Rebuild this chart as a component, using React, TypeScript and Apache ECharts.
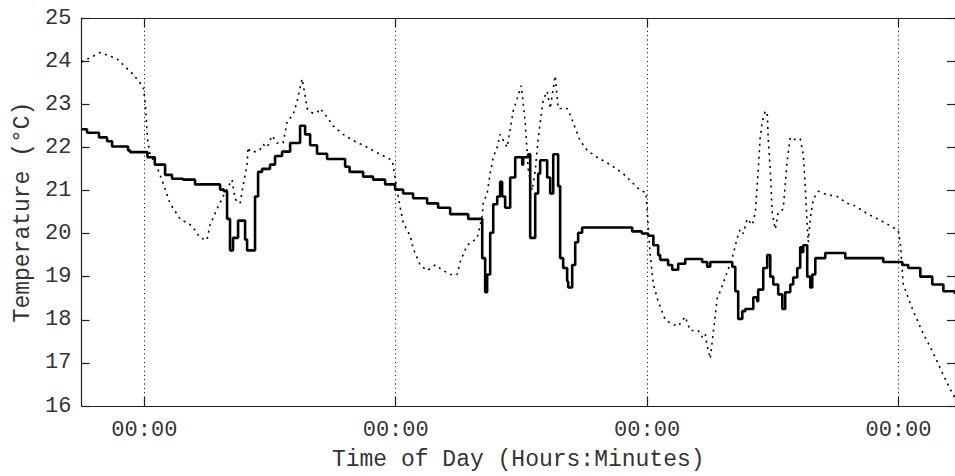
import React, { useEffect, useRef } from "react";
import * as echarts from "echarts";

// Time in hours relative to the first midnight shown; temperatures in °C
const solidTimes = [
  -6, -5.47, -4.33, -3.56, -3.08, -1.56, -1.37, 0.3, 1.0, 1.98, 2.65, 3.7, 4.84, 7.23, 7.6, 7.9, 8.18, 8.47,
  8.95, 9.62, 9.81, 10.57, 10.86, 11.24, 12.0, 12.48, 13.15, 13.92, 14.87, 15.35, 15.83, 16.49, 17.45, 19.17,
  19.6, 20.89, 21.84, 22.99, 23.94, 24.71, 25.66, 27.0, 28.05, 29.2, 30.92, 32.26, 32.54, 32.73, 33.02, 33.31,
  33.69, 33.97, 34.16, 34.45, 34.93, 35.41, 36.08, 36.17, 36.65, 36.84, 37.32, 37.6, 37.79, 38.46, 38.75, 39.04,
  39.51, 39.7, 39.99, 40.37, 40.47, 40.85, 41.14, 41.42, 41.8, 46.58, 47.5, 48.1, 48.6, 49.06, 49.25, 50.01,
  50.4, 50.97, 51.64, 53.26, 53.74, 54.03, 56.13, 56.42, 56.7, 57.09, 57.37, 58.14, 58.52, 58.61, 59.09, 59.47,
  59.76, 60.05, 60.52, 60.91, 61.19, 61.67, 61.95, 62.34, 62.62, 62.81, 62.91, 63.29, 63.58, 63.77, 64.06,
  65.01, 66.92, 70.55, 72.37, 72.94, 74.09, 75.23, 76.29, 77.4,
];
const solidTemps = [
  22.42, 22.34, 22.23, 22.14, 22.02, 21.93, 21.89, 21.77, 21.6, 21.36, 21.27, 21.25, 21.14, 21.02, 20.98, 20.34,
  19.61, 19.9, 20.3, 19.86, 19.61, 20.86, 21.43, 21.5, 21.6, 21.8, 21.9, 22.1, 22.5, 22.3, 22.05, 21.85, 21.73,
  21.55, 21.43, 21.32, 21.25, 21.14, 21.02, 20.93, 20.82, 20.7, 20.6, 20.45, 20.34, 19.43, 18.64, 19.05, 20.02,
  20.68, 20.86, 21.2, 20.86, 20.6, 21.3, 21.77, 21.6, 21.77, 21.84, 19.9, 20.93, 21.39, 21.7, 21.3, 20.93, 21.84,
  21.1, 19.43, 19.2, 18.89, 18.75, 19.27, 19.8, 20.02, 20.14, 20.05, 20.0, 19.95, 19.73, 19.5, 19.39, 19.27,
  19.16, 19.3, 19.41, 19.34, 19.23, 19.34, 19.23, 18.66, 18.02, 18.2, 18.25, 18.52, 18.43, 18.7, 19.2, 19.5,
  19.0, 18.82, 18.59, 18.25, 18.64, 18.82, 18.98, 19.2, 19.68, 19.57, 19.73, 19.0, 18.75, 19.05, 19.43, 19.55,
  19.43, 19.34, 19.27, 19.2, 19.0, 18.82, 18.66, 18.6,
];

const dottedTimes = [
  -6, -5.0, -4.2, -2.6, -1.1, -0.1, 0.1, 0.3, 0.54, 1.2, 1.8, 2.45, 3.41, 4.55, 5.32, 5.98, 6.27, 6.94, 7.52,
  8.37, 8.66, 9.14, 9.42, 9.81, 9.9, 10.1, 10.76, 11.05, 11.34, 11.72, 12.2, 12.67, 13.25, 13.63, 14.2, 14.58,
  15.06, 15.35, 15.54, 16.02, 16.49, 16.78, 17.45, 18.02, 18.98, 19.93, 21.27, 22.51, 23.66, 23.94, 24.23,
  24.71, 25.38, 25.66, 26.33, 27.0, 27.77, 28.43, 29.2, 29.86, 30.15, 30.82, 31.77, 32.26, 32.35, 32.73, 33.02,
  33.31, 33.69, 33.97, 34.64, 35.22, 35.98, 36.36, 36.65, 37.03, 37.32, 37.6, 38.08, 38.46, 38.75, 39.23,
  39.51, 40.37, 40.66, 41.14, 41.6, 42.28, 43.23, 44.48, 45.72, 46.68, 47.35, 47.9, 48.1, 48.3, 48.6, 49.06,
  49.73, 50.4, 50.97, 51.64, 52.12, 52.88, 53.26, 53.55, 53.74, 54.03, 54.31, 54.7, 54.98, 55.46, 56.13, 56.6,
  56.89, 57.18, 57.56, 58.04, 58.33, 58.61, 58.8, 59.0, 59.28, 59.47, 59.57, 59.76, 59.95, 60.24, 60.52, 61.0,
  61.38, 61.67, 62.15, 62.62, 62.91, 63.1, 63.29, 63.39, 63.58, 63.87, 64.35, 65.2, 66.15, 67.1, 67.58, 69.11,
  70.73, 71.98, 72.17, 72.46, 73.41, 74.37, 75.32, 76.19, 76.76, 77.24, 77.4,
];
const dottedTemps = [
  23.98, 24.1, 24.2, 24.05, 23.7, 23.4, 23.0, 22.2, 21.84, 21.55, 21.16, 20.7, 20.34, 20.18, 19.9, 19.85, 20.2,
  20.57, 20.86, 21.25, 20.8, 20.7, 21.1, 21.6, 22.0, 21.9, 21.9, 21.95, 22.07, 22.0, 22.27, 22.1, 22.1, 22.6,
  22.75, 23.06, 23.59, 23.2, 22.9, 22.8, 22.8, 22.9, 22.7, 22.5, 22.3, 22.16, 22.0, 21.84, 21.7, 21.3, 20.86,
  20.25, 19.95, 19.66, 19.27, 19.14, 19.27, 19.16, 19.05, 19.05, 19.34, 19.73, 19.89, 20.41, 20.7, 20.93, 21.4,
  21.77, 22.0, 22.3, 22.0, 22.84, 23.43, 22.6, 21.5, 21.0, 21.45, 22.2, 23.1, 23.3, 22.9, 23.66, 22.9, 22.9,
  22.75, 22.45, 22.16, 21.93, 21.77, 21.6, 21.39, 21.16, 21.0, 20.95, 20.2, 19.5, 18.82, 18.43, 18.0, 17.9,
  17.85, 18.07, 17.75, 17.75, 17.6, 17.68, 17.39, 17.1, 17.68, 18.5, 18.66, 18.98, 19.43, 19.89, 20.1, 20.0,
  20.34, 20.2, 20.48, 21.48, 22.23, 22.6, 22.84, 22.8, 22.2, 21.48, 20.48, 20.1, 20.48, 20.57, 21.7, 22.23,
  22.18, 22.2, 21.84, 21.1, 20.18, 19.8, 20.34, 20.8, 20.98, 20.9, 20.86, 20.7, 20.68, 20.45, 20.25, 20.07,
  19.8, 18.82, 18.2, 17.68, 17.23, 16.77, 16.48, 16.25, 16.2,
];

const midnightHours = [0, 24, 48, 72];
const midnightLabel = "00:00";
const xTitle = "Time of Day (Hours:Minutes)";
const yTitle = "Temperature (°C)";
const xMin = -6;
const xMax = 77.4;
const yMin = 16;
const yMax = 25;

const FONT = "'Liberation Mono', 'DejaVu Sans Mono', monospace";

export default function App() {
  const ref = useRef<HTMLDivElement>(null);

  useEffect(() => {
    if (!ref.current) return;
    const chart = echarts.init(ref.current, null, { renderer: "svg" });

    const solidData = solidTimes.map((t, i) => [t, solidTemps[i]]);
    const dottedData = dottedTimes.map((t, i) => [t, dottedTemps[i]]);

    const axisLineStyle = { color: "#222", width: 1.2 };
    const labelStyle = { fontFamily: FONT, fontSize: 22, color: "#333" };

    chart.setOption({
      animation: false,
      backgroundColor: "#fff",
      grid: { left: 81.5, top: 18, right: 0, bottom: 62, containLabel: false },
      xAxis: [
        {
          type: "value",
          min: xMin,
          max: xMax,
          position: "bottom",
          axisLine: { show: true, onZero: false, lineStyle: axisLineStyle },
          axisTick: { show: true, inside: true, length: 9, customValues: midnightHours, lineStyle: axisLineStyle },
          axisLabel: {
            show: true,
            customValues: midnightHours,
            formatter: () => midnightLabel,
            margin: 13,
            ...labelStyle,
          },
          splitLine: { show: false },
          name: xTitle,
          nameLocation: "middle",
          nameGap: 42,
          nameTextStyle: { fontFamily: FONT, fontSize: 23, color: "#333" },
        },
        {
          type: "value",
          min: xMin,
          max: xMax,
          position: "top",
          axisLine: { show: true, onZero: false, lineStyle: axisLineStyle },
          axisTick: { show: true, inside: true, length: 9, customValues: midnightHours, lineStyle: axisLineStyle },
          axisLabel: { show: false },
          splitLine: { show: false },
        },
      ],
      yAxis: [
        {
          type: "value",
          min: yMin,
          max: yMax,
          interval: 1,
          position: "left",
          axisLine: { show: true, onZero: false, lineStyle: axisLineStyle },
          axisTick: { show: true, inside: true, length: 8, lineStyle: axisLineStyle },
          axisLabel: { show: true, margin: 10, ...labelStyle },
          splitLine: { show: false },
          name: yTitle,
          nameLocation: "middle",
          nameRotate: 90,
          nameGap: 47,
          nameTextStyle: { fontFamily: FONT, fontSize: 23, color: "#333" },
        },
        {
          type: "value",
          min: yMin,
          max: yMax,
          interval: 1,
          position: "right",
          axisLine: { show: true, onZero: false, lineStyle: axisLineStyle },
          axisTick: { show: true, inside: true, length: 8, lineStyle: axisLineStyle },
          axisLabel: { show: false },
          splitLine: { show: false },
        },
      ],
      series: [
        {
          type: "line",
          name: "outdoor",
          xAxisIndex: 0,
          yAxisIndex: 0,
          data: dottedData,
          showSymbol: false,
          symbol: "none",
          lineStyle: { color: "#000", width: 1.6, type: [2, 4.5] },
          markLine: {
            silent: true,
            symbol: "none",
            label: { show: false },
            lineStyle: { color: "#000", width: 1, type: [1, 3.3] },
            data: midnightHours.map((h) => ({ xAxis: h })),
          },
          z: 2,
        },
        {
          type: "line",
          name: "indoor",
          xAxisIndex: 0,
          yAxisIndex: 0,
          data: solidData,
          step: "end",
          showSymbol: false,
          symbol: "none",
          lineStyle: { color: "#000", width: 2.6 },
          z: 3,
        },
      ],
    });

    return () => chart.dispose();
  }, []);

  return (
    <div
      ref={ref}
      style={{ position: "fixed", left: 0, top: 0, width: 955, height: 476, background: "#fff" }}
    />
  );
}
